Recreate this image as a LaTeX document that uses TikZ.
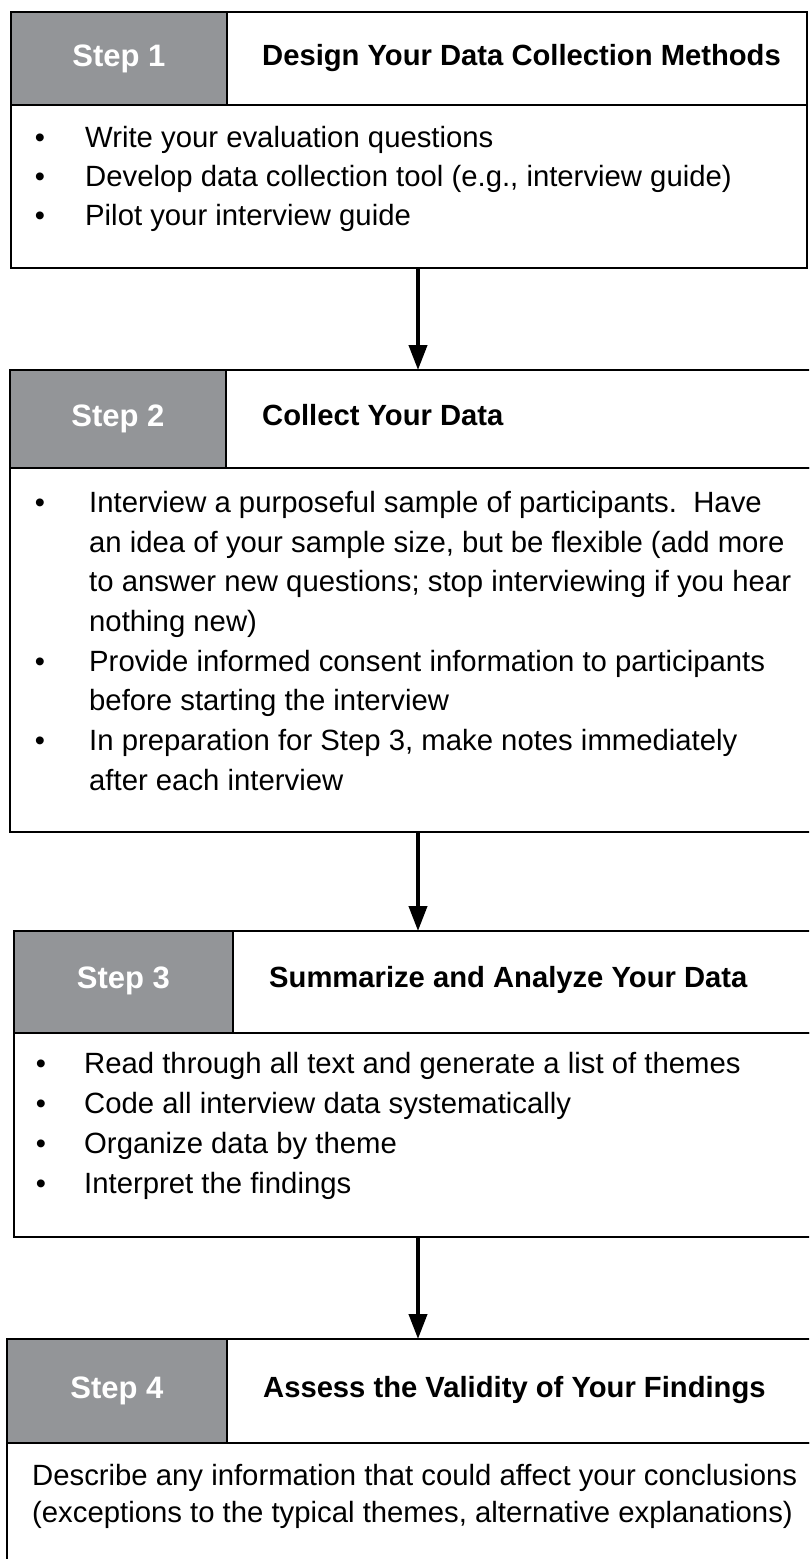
\documentclass[tikz,border=0pt]{standalone}
\usepackage{fontspec}
\setmainfont{Liberation Sans}
\usetikzlibrary{arrows.meta}
\definecolor{stepgray}{HTML}{939598}
\tikzset{
  cell/.style={draw=black, line width=2.5pt, inner sep=0pt, outer sep=0pt, rectangle},
  stepcell/.style={cell, fill=stepgray},
  stepkey/.style={anchor=base, inner sep=0pt, text=white, font=\fontsize{31}{36}\selectfont\bfseries},
  titletxt/.style={anchor=base west, inner sep=0pt, font=\fontsize{29.2}{36}\selectfont\bfseries},
  linetxt/.style={anchor=base west, inner sep=0pt, font=\fontsize{29.3}{36}\selectfont},
  bul/.style={anchor=base, inner sep=0pt, font=\fontsize{29}{36}\selectfont},
  arr/.style={line width=4pt, -{Triangle[width=18pt,length=25pt]}}
}
\begin{document}
\begin{tikzpicture}[x=1pt,y=-1pt]
\useasboundingbox (0,0) rectangle (809,1559);
\clip (0,0) rectangle (809,1559);
\fill[white] (0,0) rectangle (809,1559);

% ---------- Box 1 ----------
\node[stepcell, minimum width=216pt, minimum height=93pt] (s1) at (119,58.5) {};
\node[cell, minimum width=580pt, minimum height=93pt] (t1) at (517,58.5) {};
\node[cell, minimum width=796pt, minimum height=163pt] (b1) at (409,186.5) {};
\node[stepkey] (k1) at (119,66) {Step 1};
\node[titletxt] (n1) at (262,65) {Design Your Data Collection Methods};
\node[bul] (p1a) at (40,147) {•};
\node[linetxt] (l1a) at (85,147) {Write your evaluation questions};
\node[bul] (p1b) at (40,186) {•};
\node[linetxt] (l1b) at (85,186) {Develop data collection tool (e.g., interview guide)};
\node[bul] (p1c) at (40,225) {•};
\node[linetxt] (l1c) at (85,225) {Pilot your interview guide};

% ---------- Box 2 ----------
\node[stepcell, minimum width=216pt, minimum height=98pt] (s2) at (118,419) {};
\node[cell, minimum width=586pt, minimum height=98pt] (t2) at (519,419) {};
\node[cell, minimum width=802pt, minimum height=364pt] (b2) at (411,650) {};
\node[stepkey] (k2) at (118,426) {Step 2};
\node[titletxt] (n2) at (262,425) {Collect Your Data};
\node[bul] (p2a) at (40,512) {•};
\node[linetxt] (l2a) at (89,512) {Interview a purposeful sample of participants.\ \ Have};
\node[linetxt] (l2b) at (89,552) {an idea of your sample size, but be flexible (add more};
\node[linetxt] (l2c) at (89,591) {to answer new questions; stop interviewing if you hear};
\node[linetxt] (l2d) at (89,631) {nothing new)};
\node[bul] (p2b) at (40,671) {•};
\node[linetxt] (l2e) at (89,671) {Provide informed consent information to participants};
\node[linetxt] (l2f) at (89,710) {before starting the interview};
\node[bul] (p2c) at (40,750) {•};
\node[linetxt] (l2g) at (89,750) {In preparation for Step 3, make notes immediately};
\node[linetxt] (l2h) at (89,790) {after each interview};

% ---------- Box 3 ----------
\node[stepcell, minimum width=219pt, minimum height=102pt] (s3) at (123.5,982) {};
\node[cell, minimum width=579pt, minimum height=102pt] (t3) at (522.5,982) {};
\node[cell, minimum width=798pt, minimum height=204pt] (b3) at (413,1135) {};
\node[stepkey] (k3) at (123.5,988) {Step 3};
\node[titletxt] (n3) at (269,987) {Summarize and Analyze Your Data};
\node[bul] (p3a) at (41,1073) {•};
\node[linetxt] (l3a) at (84,1073) {Read through all text and generate a list of themes};
\node[bul] (p3b) at (41,1113) {•};
\node[linetxt] (l3b) at (84,1113) {Code all interview data systematically};
\node[bul] (p3c) at (41,1153) {•};
\node[linetxt] (l3c) at (84,1153) {Organize data by theme};
\node[bul] (p3d) at (41,1193) {•};
\node[linetxt] (l3d) at (84,1193) {Interpret the findings};

% ---------- Box 4 ----------
\node[stepcell, minimum width=220pt, minimum height=104pt] (s4) at (117,1391) {};
\node[cell, minimum width=585pt, minimum height=104pt] (t4) at (519.5,1391) {};
\node[cell, minimum width=805pt, minimum height=132pt] (b4) at (409.5,1509) {};
\node[stepkey] (k4) at (117,1398) {Step 4};
\node[titletxt] (n4) at (263,1397) {Assess the Validity of Your Findings};
\node[linetxt] (l4a) at (32,1485) {Describe any information that could affect your conclusions};
\node[linetxt] (l4b) at (32,1522) {(exceptions to the typical themes, alternative explanations)};

% ---------- Connectors ----------
\coordinate (ax) at (418,0);
\draw[arr] (b1.south -| ax) -- (t2.north -| ax);
\draw[arr] (b2.south -| ax) -- (t3.north -| ax);
\draw[arr] (b3.south -| ax) -- (t4.north -| ax);
\end{tikzpicture}
\end{document}
